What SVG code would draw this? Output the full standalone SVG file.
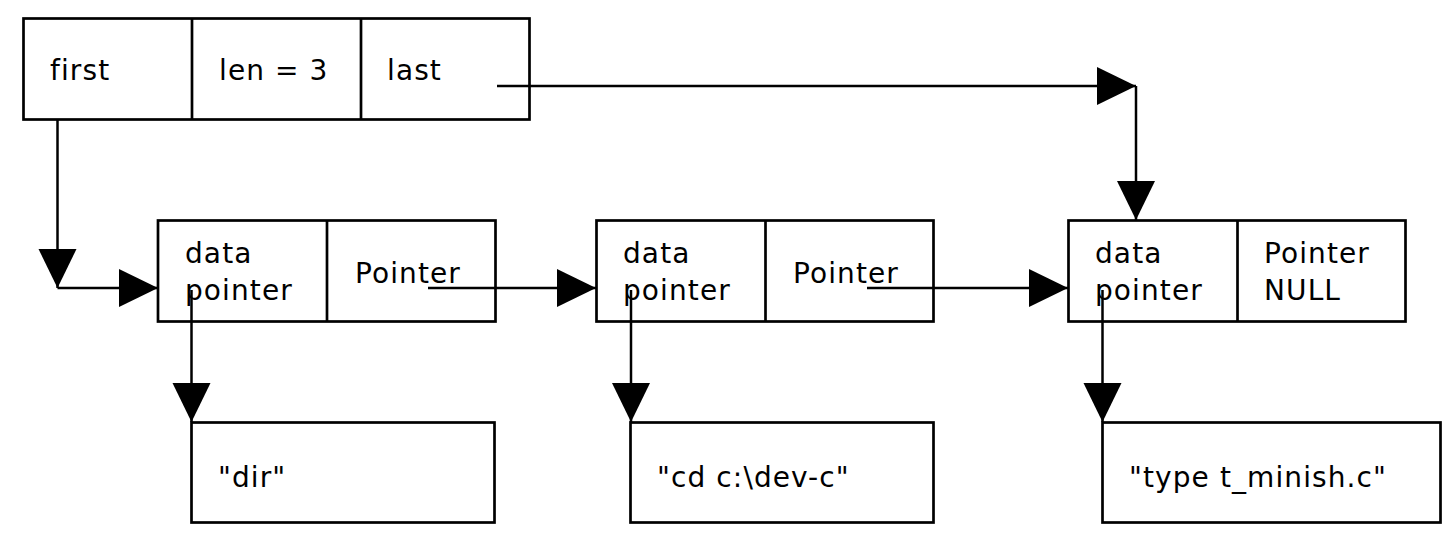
<svg xmlns="http://www.w3.org/2000/svg" width="1454" height="534" viewBox="0 0 1454 534">
<style>
.box{fill:#fff;stroke:#000;stroke-width:2.7}
.div{stroke:#000;stroke-width:2.7}
.t{font-family:"DejaVu Sans","Noto Sans",sans-serif;font-size:28px;letter-spacing:1.1px;fill:#000}
.c{fill:none;stroke:#000;stroke-width:2.5}
</style>
<defs>
<marker id="ah" markerUnits="userSpaceOnUse" markerWidth="40" markerHeight="40" refX="39" refY="19" orient="auto" viewBox="0 0 40 40">
<path d="M0,0 L39,19 L0,38 z" fill="#000"/>
</marker>
</defs>
<rect width="1454" height="534" fill="#fff"/>
<g id="header">
<rect class="box" x="23.5" y="18.5" width="506" height="101"/>
<line class="div" x1="192" y1="18.5" x2="192" y2="119.5"/>
<line class="div" x1="361" y1="18.5" x2="361" y2="119.5"/>
<text class="t" x="50" y="80">first</text>
<text class="t" x="219" y="80">len = 3</text>
<text class="t" x="387" y="80">last</text>
</g>
<g id="node1">
<rect class="box" x="158" y="220.5" width="337.5" height="101"/>
<line class="div" x1="327" y1="220.5" x2="327" y2="321.5"/>
<text class="t" x="185" y="263">data</text>
<text class="t" x="185" y="300">pointer</text>
<text class="t" x="355" y="283">Pointer</text>
</g>
<g id="node2">
<rect class="box" x="596.5" y="220.5" width="337" height="101"/>
<line class="div" x1="765.5" y1="220.5" x2="765.5" y2="321.5"/>
<text class="t" x="623" y="263">data</text>
<text class="t" x="623" y="300">pointer</text>
<text class="t" x="793" y="283">Pointer</text>
</g>
<g id="node3">
<rect class="box" x="1068.5" y="220.5" width="337" height="101"/>
<line class="div" x1="1237.5" y1="220.5" x2="1237.5" y2="321.5"/>
<text class="t" x="1095" y="263">data</text>
<text class="t" x="1095" y="300">pointer</text>
<text class="t" x="1264" y="263">Pointer</text>
<text class="t" x="1264" y="300">NULL</text>
</g>
<g id="data1">
<rect class="box" x="191.5" y="422.5" width="303" height="100"/>
<text class="t" x="218" y="487">"dir"</text>
</g>
<g id="data2">
<rect class="box" x="630.5" y="422.5" width="303" height="100"/>
<text class="t" x="657" y="487">"cd c:\dev-c"</text>
</g>
<g id="data3">
<rect class="box" x="1102.5" y="422.5" width="338" height="100"/>
<text class="t" x="1129" y="487">"type t_minish.c"</text>
</g>
<g id="connectors">
<path class="c" d="M57.5,119.5 V288" marker-end="url(#ah)"/>
<path class="c" d="M57.5,288 H158" marker-end="url(#ah)"/>
<path class="c" d="M497,86 H1136" marker-end="url(#ah)"/>
<path class="c" d="M1136,86 V220" marker-end="url(#ah)"/>
<path class="c" d="M428,288 H596" marker-end="url(#ah)"/>
<path class="c" d="M867,288 H1068" marker-end="url(#ah)"/>
<path class="c" d="M191.5,290 V422" marker-end="url(#ah)"/>
<path class="c" d="M631,290 V422" marker-end="url(#ah)"/>
<path class="c" d="M1102.5,290 V422" marker-end="url(#ah)"/>
</g>
</svg>
